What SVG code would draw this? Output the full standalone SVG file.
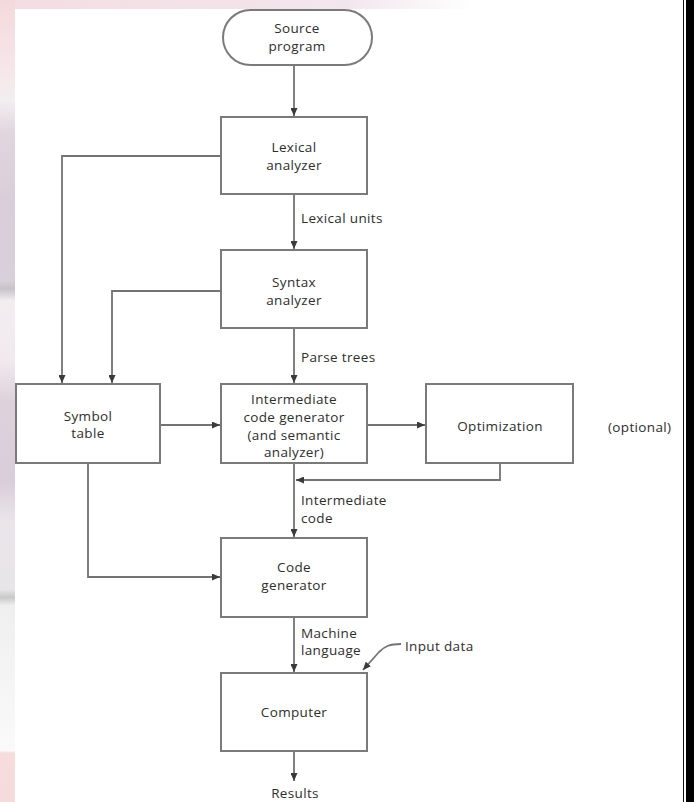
<svg xmlns="http://www.w3.org/2000/svg" width="694" height="802" viewBox="0 0 694 802">
  <defs>
    <linearGradient id="edgeLeft" x1="0" y1="0" x2="0" y2="802" gradientUnits="userSpaceOnUse">
      <stop offset="0" stop-color="#f4d9dc"/>
      <stop offset="0.075" stop-color="#f6e4e7"/>
      <stop offset="0.125" stop-color="#f3eef0"/>
      <stop offset="0.165" stop-color="#e1d6de"/>
      <stop offset="0.25" stop-color="#d9cdd9"/>
      <stop offset="0.35" stop-color="#d8d0da"/>
      <stop offset="0.36" stop-color="#c6c2c7"/>
      <stop offset="0.375" stop-color="#f3edf0"/>
      <stop offset="0.45" stop-color="#f1e9ee"/>
      <stop offset="0.5" stop-color="#ddd2dc"/>
      <stop offset="0.6" stop-color="#d9cdd9"/>
      <stop offset="0.65" stop-color="#ebe5ea"/>
      <stop offset="0.735" stop-color="#e7e5e7"/>
      <stop offset="0.745" stop-color="#c9c9c9"/>
      <stop offset="0.755" stop-color="#f0eff0"/>
      <stop offset="0.936" stop-color="#fafafa"/>
      <stop offset="0.939" stop-color="#f6dcdc"/>
      <stop offset="1" stop-color="#f5dbdb"/>
    </linearGradient>
    <linearGradient id="edgeTop" x1="0" y1="0" x2="694" y2="0" gradientUnits="userSpaceOnUse">
      <stop offset="0" stop-color="#f4dde2"/>
      <stop offset="0.5" stop-color="#f2e6ec"/>
      <stop offset="0.68" stop-color="#ffffff"/>
      <stop offset="1" stop-color="#ffffff"/>
    </linearGradient>
    <marker id="arrow" markerWidth="8" markerHeight="7" refX="8" refY="3.5" orient="auto" markerUnits="userSpaceOnUse">
      <path d="M0,0 L8,3.5 L0,7 z" fill="#3a3a3a"/>
    </marker>
  </defs>
  <style>
    .box { fill: #ffffff; stroke: #7a7a7a; stroke-width: 2; }
    .wire { fill: none; stroke: #737373; stroke-width: 1.8; }
    text { font-family: "Open Sans", "Noto Sans", "Liberation Sans", sans-serif; font-size: 13.5px; letter-spacing: 0.35px; fill: #2e2e2e; dominant-baseline: central; }
    .c { text-anchor: middle; }
  </style>

  <!-- page background and frame -->
  <rect x="0" y="0" width="694" height="802" fill="#ffffff"/>
  <rect x="0" y="0" width="15" height="802" fill="url(#edgeLeft)"/>
  <rect x="15" y="0" width="668" height="9" fill="url(#edgeTop)"/>
  <rect x="683" y="0" width="1" height="802" fill="#111111"/>
  <rect x="686" y="0" width="8" height="802" fill="#000000"/>

  <!-- connectors -->
  <g id="connectors">
    <path class="wire" d="M294,65 V116" marker-end="url(#arrow)"/>
    <path class="wire" d="M221,156 H62 V383" marker-end="url(#arrow)"/>
    <path class="wire" d="M294,194 V249" marker-end="url(#arrow)"/>
    <path class="wire" d="M221,291 H112 V383" marker-end="url(#arrow)"/>
    <path class="wire" d="M294,328 V383" marker-end="url(#arrow)"/>
    <path class="wire" d="M160,425 H220" marker-end="url(#arrow)"/>
    <path class="wire" d="M367,425 H425" marker-end="url(#arrow)"/>
    <path class="wire" d="M500,463 V480 H296" marker-end="url(#arrow)"/>
    <path class="wire" d="M294,463 V537" marker-end="url(#arrow)"/>
    <path class="wire" d="M88,463 V577 H220" marker-end="url(#arrow)"/>
    <path class="wire" d="M294,617 V672" marker-end="url(#arrow)"/>
    <path class="wire" d="M401,644 C390,644 385,646 379,652 L363,670" marker-end="url(#arrow)"/>
    <path class="wire" d="M294,751 V781" marker-end="url(#arrow)"/>
  </g>

  <!-- nodes -->
  <g id="source-program">
    <rect class="box" x="223" y="10" width="149" height="55" rx="27.5"/>
    <text class="c" x="297" y="28">Source</text>
    <text class="c" x="297" y="46">program</text>
  </g>
  <g id="lexical-analyzer">
    <rect class="box" x="221" y="117" width="146" height="77"/>
    <text class="c" x="294" y="147">Lexical</text>
    <text class="c" x="294" y="165">analyzer</text>
  </g>
  <g id="syntax-analyzer">
    <rect class="box" x="221" y="250" width="146" height="78"/>
    <text class="c" x="294" y="282">Syntax</text>
    <text class="c" x="294" y="300">analyzer</text>
  </g>
  <g id="symbol-table">
    <rect class="box" x="16" y="384" width="144" height="79"/>
    <text class="c" x="88" y="416">Symbol</text>
    <text class="c" x="88" y="433">table</text>
  </g>
  <g id="intermediate-code-generator">
    <rect class="box" x="221" y="384" width="146" height="79"/>
    <text class="c" x="294" y="399">Intermediate</text>
    <text class="c" x="294" y="417">code generator</text>
    <text class="c" x="294" y="435">(and semantic</text>
    <text class="c" x="294" y="452">analyzer)</text>
  </g>
  <g id="optimization">
    <rect class="box" x="426" y="384" width="147" height="79"/>
    <text class="c" x="500" y="426">Optimization</text>
  </g>
  <g id="code-generator">
    <rect class="box" x="221" y="538" width="146" height="79"/>
    <text class="c" x="294" y="567">Code</text>
    <text class="c" x="294" y="585">generator</text>
  </g>
  <g id="computer">
    <rect class="box" x="221" y="673" width="146" height="78"/>
    <text class="c" x="294" y="712">Computer</text>
  </g>

  <!-- edge labels and annotations -->
  <g id="labels">
    <text x="301" y="218">Lexical units</text>
    <text x="301" y="357">Parse trees</text>
    <text x="301" y="500">Intermediate</text>
    <text x="301" y="518">code</text>
    <text x="301" y="633">Machine</text>
    <text x="301" y="650">language</text>
    <text x="405" y="646">Input data</text>
    <text x="608" y="427">(optional)</text>
    <text class="c" x="295" y="793">Results</text>
  </g>
</svg>
